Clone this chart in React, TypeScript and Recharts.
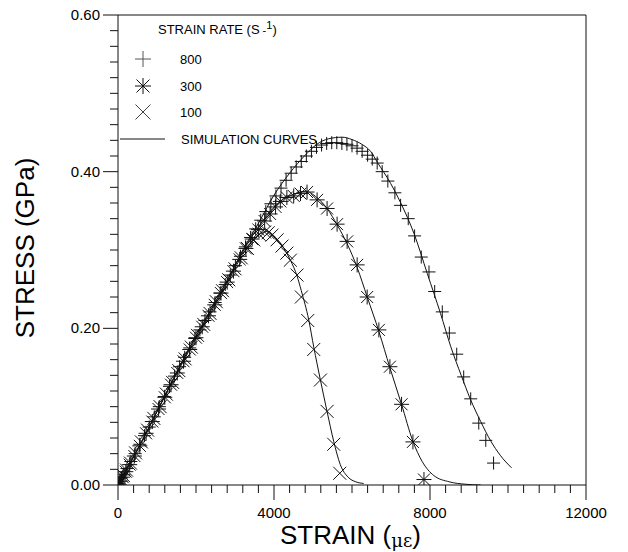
import React from 'react'
import { ComposedChart, Scatter, Line, XAxis, YAxis, ReferenceLine, Legend } from 'recharts'

// measured points [strain (micro-strain), stress (GPa)]
const rate800: [number, number][] = [
  [0, 0.002], [40, 0.004], [90, 0.009], [150, 0.013], [230, 0.021], [330, 0.030], [440, 0.040], [560, 0.052],
  [680, 0.063], [800, 0.074], [930, 0.087], [1060, 0.100], [1190, 0.113], [1320, 0.126], [1450, 0.139],
  [1580, 0.151], [1710, 0.163], [1840, 0.175], [1970, 0.187], [2100, 0.198], [2230, 0.210], [2360, 0.221],
  [2490, 0.233], [2620, 0.245], [2750, 0.256], [2880, 0.268], [3010, 0.280], [3140, 0.292], [3270, 0.304],
  [3400, 0.316], [3530, 0.327], [3660, 0.338], [3790, 0.349], [3920, 0.359], [4050, 0.369], [4180, 0.379],
  [4310, 0.389], [4440, 0.398], [4570, 0.406], [4700, 0.413], [4830, 0.420], [4960, 0.426], [5090, 0.431],
  [5220, 0.434], [5350, 0.436], [5480, 0.437], [5610, 0.437], [5740, 0.436], [5870, 0.435], [6000, 0.433],
  [6130, 0.430], [6260, 0.426], [6400, 0.421], [6520, 0.416], [6646, 0.411], [6774, 0.400], [6919, 0.388],
  [7100, 0.373], [7246, 0.357], [7442, 0.340], [7605, 0.318], [7776, 0.291], [7974, 0.272], [8120, 0.247],
  [8315, 0.221], [8496, 0.194], [8685, 0.167], [8864, 0.138], [9044, 0.110], [9250, 0.079], [9430, 0.057],
  [9630, 0.028],
]

const rate300: [number, number][] = [
  [0, 0.001], [60, 0.005], [120, 0.010], [200, 0.017], [300, 0.026], [420, 0.037], [560, 0.050], [720, 0.066],
  [880, 0.081], [1040, 0.097], [1200, 0.112], [1360, 0.128], [1520, 0.143], [1680, 0.158], [1840, 0.173],
  [2000, 0.188], [2160, 0.202], [2320, 0.216], [2480, 0.230], [2640, 0.245], [2800, 0.259], [2960, 0.273],
  [3120, 0.288], [3280, 0.302], [3440, 0.314], [3600, 0.326], [3760, 0.337], [3900, 0.346], [4040, 0.355],
  [4162, 0.362], [4330, 0.367], [4505, 0.369], [4680, 0.372], [4847, 0.374], [5105, 0.364], [5361, 0.353],
  [5618, 0.333], [5875, 0.311], [6132, 0.281], [6389, 0.240], [6689, 0.198], [6972, 0.151], [7271, 0.103],
  [7562, 0.055], [7845, 0.007],
]

const rate100: [number, number][] = [
  [0, 0.000], [30, 0.003], [80, 0.007], [140, 0.012], [220, 0.019], [320, 0.028], [450, 0.041], [600, 0.055],
  [760, 0.070], [920, 0.085], [1080, 0.100], [1240, 0.116], [1400, 0.131], [1560, 0.146], [1720, 0.161],
  [1880, 0.176], [2040, 0.191], [2200, 0.205], [2360, 0.219], [2520, 0.234], [2680, 0.248], [2840, 0.262],
  [3000, 0.276], [3160, 0.290], [3320, 0.302], [3480, 0.313], [3620, 0.320], [3760, 0.323], [3850, 0.322],
  [3948, 0.319], [4080, 0.313], [4205, 0.305], [4330, 0.296], [4419, 0.287], [4590, 0.268], [4702, 0.240],
  [4865, 0.210], [5019, 0.173], [5190, 0.134], [5361, 0.094], [5532, 0.052], [5686, 0.015],
]

// simulation curves
const sim800: [number, number][] = [
  [0, 0], [400, 0.036], [800, 0.074], [1200, 0.114], [1600, 0.153], [2000, 0.190], [2400, 0.225], [2800, 0.261],
  [3200, 0.300], [3600, 0.334], [4000, 0.370], [4400, 0.398], [4800, 0.421], [5100, 0.435], [5400, 0.442],
  [5750, 0.444], [6000, 0.441], [6250, 0.435], [6475, 0.426], [6650, 0.412], [6990, 0.385], [7250, 0.360],
  [7590, 0.321], [7930, 0.270], [8270, 0.219], [8530, 0.177], [8800, 0.140], [9040, 0.109], [9300, 0.081],
  [9560, 0.056], [9800, 0.038], [10090, 0.022],
]

const sim300: [number, number][] = [
  [0, 0], [400, 0.036], [800, 0.074], [1200, 0.114], [1600, 0.153], [2000, 0.190], [2400, 0.225], [2800, 0.261],
  [3200, 0.298], [3400, 0.315], [3650, 0.333], [3900, 0.349], [4160, 0.362], [4500, 0.371], [4800, 0.375],
  [5100, 0.367], [5360, 0.353], [5620, 0.332], [5875, 0.308], [6130, 0.278], [6390, 0.240], [6690, 0.196],
  [6970, 0.150], [7270, 0.103], [7560, 0.056], [7800, 0.030], [8100, 0.012], [8500, 0.004], [8900, 0.001],
  [9300, 0.000],
]

const sim100: [number, number][] = [
  [0, 0], [400, 0.036], [800, 0.074], [1200, 0.113], [1600, 0.151], [2000, 0.187], [2400, 0.222], [2800, 0.258],
  [3100, 0.286], [3300, 0.302], [3500, 0.315], [3700, 0.322], [3850, 0.324], [4000, 0.318], [4200, 0.306],
  [4420, 0.287], [4590, 0.267], [4700, 0.248], [4890, 0.211], [5020, 0.176], [5190, 0.134], [5360, 0.094],
  [5530, 0.056], [5700, 0.026], [5900, 0.010], [6100, 0.004], [6300, 0.002],
]

const xMajorLabels = ['0', '4000', '8000', '12000']
const yMajorLabels = ['0.00', '0.20', '0.40', '0.60']
const xTicks = Array.from({ length: 31 }, (_, i) => i * 400)
const yTicks = Array.from({ length: 31 }, (_, i) => Math.round(i * 2) / 100)

const FONT = '"Liberation Sans", Arial, Helvetica, sans-serif'
const INK = '#111'

const toXY = (pts: [number, number][]) => pts.map(([x, y]) => ({ x, y }))

const plus = (cx: number, cy: number, r: number) => `M${cx - r},${cy}H${cx + r}M${cx},${cy - r}V${cy + r}`
const cross = (cx: number, cy: number, r: number) =>
  `M${cx - r},${cy - r}L${cx + r},${cy + r}M${cx + r},${cy - r}L${cx - r},${cy + r}`

const PlusMark = (p: any) => <path d={plus(p.cx, p.cy, 6.5)} stroke={INK} strokeWidth={1} fill="none" />
const CrossMark = (p: any) => <path d={cross(p.cx, p.cy, 6.5)} stroke={INK} strokeWidth={1} fill="none" />
const StarMark = (p: any) => (
  <path d={plus(p.cx, p.cy, 7.5) + cross(p.cx, p.cy, 6)} stroke={INK} strokeWidth={1} fill="none" />
)

const XTick = ({ x, y, payload }: any) => {
  const v = payload.value
  const major = v % 4000 === 0
  return (
    <g>
      <line x1={x} x2={x} y1={y} y2={y + (major ? 15 : 8)} stroke={INK} />
      {major && (
        <text x={x} y={y + 33} textAnchor="middle" fontSize={15} fontFamily={FONT} fill="#000">
          {xMajorLabels[v / 4000]}
        </text>
      )}
    </g>
  )
}

const YTick = ({ x, y, payload }: any) => {
  const v = payload.value
  const k = Math.round(v * 5)
  const major = Math.abs(v * 5 - k) < 1e-6
  return (
    <g>
      <line x1={x - (major ? 15 : 8)} x2={x} y1={y} y2={y} stroke={INK} />
      {major && (
        <text x={x - 18} y={y + 5} textAnchor="end" fontSize={15} fontFamily={FONT} fill="#000">
          {yMajorLabels[k]}
        </text>
      )}
    </g>
  )
}

const LegendBox = () => (
  <svg width={330} height={150} style={{ display: 'block' }}>
    <g fontFamily={FONT} fontSize={13} fill="#000">
      <text x={158} y={34}>
        STRAIN RATE (S
        <tspan dx={3} fontSize={11}>-</tspan>
        <tspan dy={-5} fontSize={11}>1</tspan>
        <tspan dy={5}>)</tspan>
      </text>
      <path d={plus(143, 59, 8)} stroke="#555" fill="none" />
      <text x={180} y={64}>800</text>
      <path d={plus(143, 86, 8) + cross(143, 86, 6.5)} stroke={INK} fill="none" />
      <text x={180} y={91}>300</text>
      <path d={cross(143, 112, 7.5)} stroke="#444" fill="none" />
      <text x={180} y={117}>100</text>
      <line x1={120} x2={165} y1={139} y2={139} stroke={INK} />
      <text x={181} y={144}>SIMULATION CURVES</text>
    </g>
  </svg>
)

export default function App() {
  return (
    <div style={{ position: 'absolute', left: 0, top: 0, width: 628, height: 552, background: '#fff' }}>
      <ComposedChart width={628} height={552} margin={{ top: 15, right: 42, bottom: 0, left: 0 }}>
        <XAxis
          type="number"
          dataKey="x"
          domain={[0, 12000]}
          ticks={xTicks}
          interval={0}
          tickSize={0}
          tickMargin={0}
          tickLine={false}
          tick={<XTick />}
          height={67}
          axisLine={{ stroke: INK }}
          allowDataOverflow
        />
        <YAxis
          type="number"
          dataKey="y"
          domain={[0, 0.6]}
          ticks={yTicks}
          interval={0}
          tickSize={0}
          tickMargin={0}
          tickLine={false}
          tick={<YTick />}
          width={118}
          axisLine={{ stroke: INK }}
          allowDataOverflow
        />
        <ReferenceLine y={0.6} stroke={INK} ifOverflow="visible" />
        <ReferenceLine x={12000} stroke={INK} ifOverflow="visible" />
        <Line data={toXY(sim800)} dataKey="y" type="monotone" stroke={INK} strokeWidth={1} dot={false} isAnimationActive={false} />
        <Line data={toXY(sim300)} dataKey="y" type="monotone" stroke={INK} strokeWidth={1} dot={false} isAnimationActive={false} />
        <Line data={toXY(sim100)} dataKey="y" type="monotone" stroke={INK} strokeWidth={1} dot={false} isAnimationActive={false} />
        <Scatter data={toXY(rate800)} dataKey="y" shape={PlusMark} isAnimationActive={false} />
        <Scatter data={toXY(rate300)} dataKey="y" shape={StarMark} isAnimationActive={false} />
        <Scatter data={toXY(rate100)} dataKey="y" shape={CrossMark} isAnimationActive={false} />
        <Legend
          layout="vertical"
          align="center"
          verticalAlign="middle"
          content={<LegendBox />}
          wrapperStyle={{ left: 0, top: 0, width: 330, height: 150 }}
        />
      </ComposedChart>
      <div
        style={{
          position: 'absolute', left: 25, top: 248, fontFamily: FONT, fontSize: 26, lineHeight: '26px',
          whiteSpace: 'nowrap', transform: 'translate(-50%, -50%) rotate(-90deg)', color: '#000',
        }}
      >
        STRESS (GPa)
      </div>
      <div
        style={{
          position: 'absolute', left: 280, top: 522, fontFamily: FONT, fontSize: 26, lineHeight: '26px',
          whiteSpace: 'nowrap', color: '#000',
        }}
      >
        STRAIN (<span style={{ fontSize: 18, fontFamily: '"DejaVu Serif", serif', position: 'relative', top: 3 }}>με</span>)
      </div>
    </div>
  )
}
